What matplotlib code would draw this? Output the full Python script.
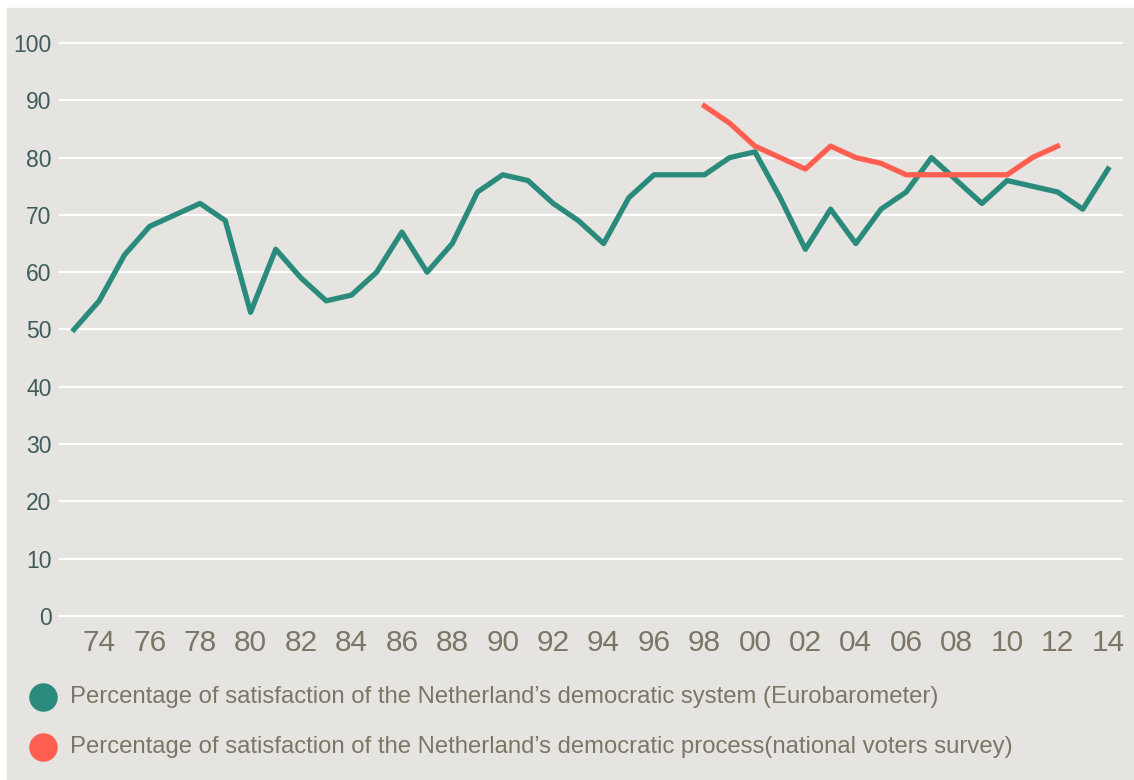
import matplotlib.pyplot as plt
from matplotlib import font_manager
from matplotlib.lines import Line2D
from matplotlib.patches import Rectangle

# data
years_green = list(range(1973, 2015))
green = [50, 55, 63, 68, 70, 72, 69, 53, 64, 59,
         55, 56, 60, 67, 60, 65, 74, 77, 76, 72,
         69, 65, 73, 77, 77, 77, 80, 81, 73, 64,
         71, 65, 71, 74, 80, 76, 72, 76, 75, 74,
         71, 78]
years_red = list(range(1998, 2013))
red = [89, 86, 82, 80, 78, 82, 80, 79, 77, 77, 77, 77, 77, 80, 82]

xticks = list(range(1974, 2015, 2))
xlabels = [f"{y % 100:02d}" for y in xticks]
yticks = list(range(0, 101, 10))

label_green = "Percentage of satisfaction of the Netherland\u2019s democratic system (Eurobarometer)"
label_red = "Percentage of satisfaction of the Netherland\u2019s democratic process(national voters survey)"

# colours
bg = "#e5e4e0"
c_green = "#2a8a7b"
c_red = "#ff5f50"
c_ylab = "#3f5c5c"
c_xlab = "#7d7566"

# narrow font if we have it
names = {f.name for f in font_manager.fontManager.ttflist}
if "Liberation Sans Narrow" in names:
    fam = ["Liberation Sans Narrow", "DejaVu Sans"]
    xs, ys, ls, xpad = 25, 19, 20.5, 4
else:
    fam = ["Liberation Sans", "DejaVu Sans"]
    xs, ys, ls, xpad = 21.5, 16.5, 17.2, 9.5
plt.rcParams["font.family"] = fam

W, H = 1134, 780
fig = plt.figure(figsize=(W / 100, H / 100), dpi=100, facecolor="white")
fig.add_artist(Rectangle((7 / W, 0), 1 - 7 / W, 1 - 8 / H,
                         transform=fig.transFigure, color=bg, zorder=-10))

ax = fig.add_axes([60 / W, 1 - 616 / H, (1122 - 60) / W, (616 - 43) / H])
ax.set_facecolor(bg)
ax.patch.set_alpha(0)

for v in yticks:
    ax.axhline(v, color="white", lw=1.6, zorder=1, clip_on=False)

ax.plot(years_green, green, color=c_green, lw=3.8, zorder=3)
ax.plot(years_red, red, color=c_red, lw=3.8, zorder=4)

ax.set_xlim(1972.445, 2014.555)
ax.set_ylim(0, 100)
ax.set_xticks(xticks)
ax.set_xticklabels(xlabels, fontsize=xs, color=c_xlab)
ax.set_yticks(yticks)
ax.set_yticklabels([str(v) for v in yticks], fontsize=ys, color=c_ylab)
ax.tick_params(axis="x", length=0, pad=xpad)
ax.tick_params(axis="y", length=0, pad=6)
for s in ax.spines.values():
    s.set_visible(False)

# legend drawn by hand
for yy, col, txt in [(697, c_green, label_green), (747, c_red, label_red)]:
    fig.add_artist(Line2D([43 / W], [1 - yy / H], marker="o", markersize=19.5,
                          color=col, transform=fig.transFigure))
    fig.text(70 / W, 1 - yy / H, txt, fontsize=ls, color=c_xlab,
             va="center", ha="left")

fig.savefig("out.png", dpi=100, facecolor="white")
